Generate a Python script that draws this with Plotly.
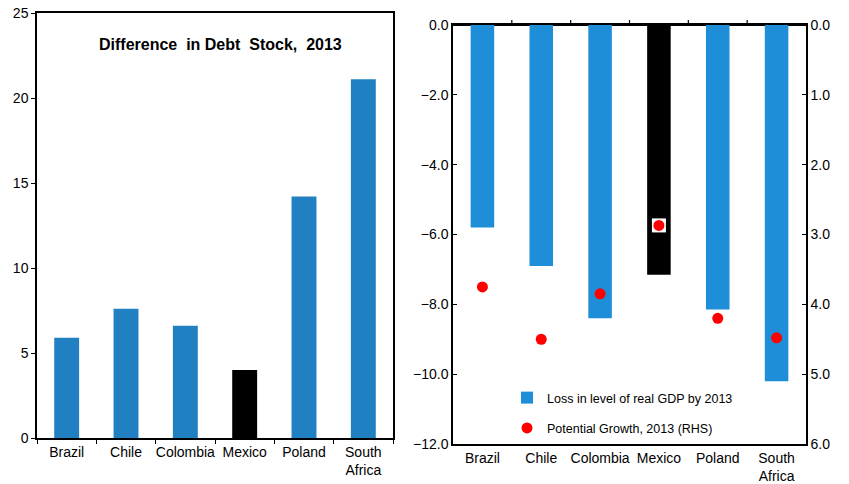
import plotly.graph_objects as go

countries = ["Brazil", "Chile", "Colombia", "Mexico", "Poland", "South<br>Africa"]
debt_diff = [5.9, 7.6, 6.6, 4.0, 14.2, 21.1]
gdp_loss = [-5.8, -6.9, -8.4, -7.15, -8.15, -10.2]
pot_growth = [3.75, 4.5, 3.85, 2.87, 4.2, 4.48]
highlight = "Mexico"

left_blue = "#2080C2"
right_blue = "#1F8ED8"
left_colors = ["#000000" if c == highlight else left_blue for c in countries]
right_colors = ["#000000" if c == highlight else right_blue for c in countries]

FONT = "Liberation Sans, Arial, sans-serif"
TICKFONT = dict(family=FONT, size=14, color="black")

fig = go.Figure()

fig.add_trace(go.Bar(x=countries, y=debt_diff, marker=dict(color=left_colors, line=dict(width=0)),
                     width=0.42, xaxis="x", yaxis="y", showlegend=False))

fig.add_trace(go.Bar(x=countries, y=gdp_loss, marker=dict(color=right_colors, line=dict(width=0)),
                     width=0.40, xaxis="x2", yaxis="y2", name="Loss in level of real GDP by 2013",
                     legendgroup="a"))

# white square behind highlighted point
hx = [c for c in countries if c == highlight]
hy = [g for c, g in zip(countries, pot_growth) if c == highlight]
fig.add_trace(go.Scatter(x=hx, y=hy, mode="markers", xaxis="x2", yaxis="y3",
                         marker=dict(symbol="square", size=14, color="white"),
                         showlegend=False, hoverinfo="skip"))
fig.add_trace(go.Scatter(x=countries, y=pot_growth, mode="markers", xaxis="x2", yaxis="y3",
                         marker=dict(color="#FF0000", size=11),
                         name="Potential Growth, 2013 (RHS)", legendgroup="b"))

axis_common = dict(showline=True, linecolor="black", linewidth=1.5, showgrid=False,
                   tickfont=TICKFONT, ticklen=4, tickcolor="black", tickwidth=1.2,
                   automargin=False)

left_dom = [37 / 849, 393 / 849]
right_dom = [453 / 849, 806 / 849]
right_ydom = [1 - 444 / 484, 1 - 25 / 484]
cat_range = [-0.5, len(countries) - 0.5]

fig.update_layout(
    template="none",
    width=849, height=484,
    margin=dict(l=0, r=0, t=0, b=0, pad=0),
    paper_bgcolor="white", plot_bgcolor="white",
    font=dict(family=FONT, size=13, color="black"),
    xaxis=dict(domain=left_dom, anchor="y", type="category", mirror=True, ticks="outside",
               tickson="boundaries", tickangle=0, categoryorder="array", categoryarray=countries,
               range=cat_range, zeroline=False, **axis_common),
    yaxis=dict(domain=[1 - 438 / 484, 1 - 13 / 484], anchor="x", range=[0, 25], dtick=5,
               ticks="outside", mirror=True, zeroline=False, **axis_common),
    xaxis2=dict(domain=right_dom, anchor="y2", type="category", side="bottom", ticks="",
                mirror=True, tickangle=0, categoryorder="array", zeroline=False,
                categoryarray=countries, range=cat_range, **axis_common),
    yaxis2=dict(domain=right_ydom, anchor="x2", range=[-12, 0], dtick=2,
                tickformat=".1f", ticks="inside", zeroline=True, zerolinecolor="black",
                zerolinewidth=1.5, layer="above traces", **axis_common),
    yaxis3=dict(overlaying="y2", anchor="x2", side="right", range=[6, 0], dtick=1,
                tickformat=".1f", ticks="inside", zeroline=False, **axis_common),
    legend=dict(x=507 / 849, y=1 - 383 / 484, xanchor="left", yanchor="top",
                bgcolor="rgba(0,0,0,0)", font=dict(family=FONT, size=12.5, color="black"),
                tracegroupgap=11, itemwidth=30),
    annotations=[dict(text="<b>Difference  in Debt  Stock,  2013</b>", x=220 / 849, y=1 - 45 / 484,
                      xref="paper", yref="paper", xanchor="center", yanchor="middle",
                      showarrow=False, font=dict(family=FONT, size=16, color="black"))],
)

# tick marks on the top edge of the right chart, at category boundaries (axis coordinates)
for i in range(len(countries) - 1):
    fig.add_shape(type="line", xref="x2", yref="paper", x0=i + 0.5, x1=i + 0.5,
                  y0=right_ydom[1], y1=right_ydom[1] + 5 / 484,
                  line=dict(color="black", width=1.2))

fig.write_html("out.html", config={"displayModeBar": False},
               post_script="document.body.style.margin='0';document.body.style.overflow='hidden';")
